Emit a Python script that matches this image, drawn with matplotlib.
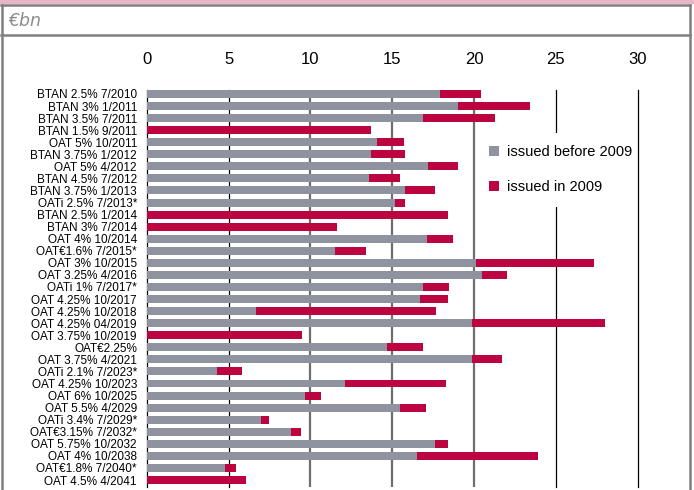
import matplotlib
matplotlib.use('Agg')
import matplotlib.pyplot as plt
from matplotlib.lines import Line2D
from matplotlib.patches import Rectangle
import numpy as np

bonds = [
    'BTAN 2.5% 7/2010', 'BTAN 3% 1/2011', 'BTAN 3.5% 7/2011', 'BTAN 1.5% 9/2011',
    'OAT 5% 10/2011', 'BTAN 3.75% 1/2012', 'OAT 5% 4/2012', 'BTAN 4.5% 7/2012',
    'BTAN 3.75% 1/2013', 'OATi 2.5% 7/2013*', 'BTAN 2.5% 1/2014', 'BTAN 3% 7/2014',
    'OAT 4% 10/2014', 'OAT€1.6% 7/2015*', 'OAT 3% 10/2015', 'OAT 3.25% 4/2016',
    'OATi 1% 7/2017*', 'OAT 4.25% 10/2017', 'OAT 4.25% 10/2018', 'OAT 4.25% 04/2019',
    'OAT 3.75% 10/2019', 'OAT€2.25%', 'OAT 3.75% 4/2021', 'OATi 2.1% 7/2023*',
    'OAT 4.25% 10/2023', 'OAT 6% 10/2025', 'OAT 5.5% 4/2029', 'OATi 3.4% 7/2029*',
    'OAT€3.15% 7/2032*', 'OAT 5.75% 10/2032', 'OAT 4% 10/2038', 'OAT€1.8% 7/2040*',
    'OAT 4.5% 4/2041',
]
issued_before = [17.9, 19.0, 16.9, 0.0, 14.1, 13.7, 17.2, 13.6, 15.8, 15.2, 0.0,
                 0.0, 17.1, 11.5, 20.1, 20.5, 16.9, 16.7, 6.7, 19.9, 0.0, 14.7,
                 19.9, 4.3, 12.1, 9.7, 15.5, 7.0, 8.8, 17.6, 16.5, 4.8, 0.0]
issued_2009 = [2.5, 4.4, 4.4, 13.7, 1.6, 2.1, 1.8, 1.9, 1.8, 0.6, 18.4,
               11.6, 1.6, 1.9, 7.2, 1.5, 1.6, 1.7, 11.0, 8.1, 9.5, 2.2,
               1.8, 1.5, 6.2, 0.95, 1.55, 0.45, 0.6, 0.8, 7.4, 0.65, 6.05]
xticks = [0, 5, 10, 15, 20, 25, 30]

GREY = '#8e939f'
RED = '#bb0440'
SANS = ['Liberation Sans', 'DejaVu Sans']

W, H = 694, 490


def fx(x):
    return x / W


def fy(y):
    return 1 - y / H


fig = plt.figure(figsize=(W / 100, H / 100), dpi=100)

# frame decorations
fig.add_artist(Rectangle((0, fy(4.5)), 1, 4.5 / H, transform=fig.transFigure,
                         facecolor='#eab6c6', edgecolor='none'))
for y in (5.5, 35):
    fig.add_artist(Line2D([fx(1), fx(690)], [fy(y), fy(y)], color='#808080', lw=1.8))
for x in (2, 690):
    fig.add_artist(Line2D([fx(x), fx(x)], [fy(5), fy(490)], color='#808080', lw=1.8))
fig.text(fx(8), fy(21), '€bn', fontsize=12.5, style='italic', color='#8c8c8c',
         va='center', ha='left', family=['DejaVu Sans'])

ax = fig.add_axes([fx(146.7), fy(487), fx(637.7) - fx(146.7), (487 - 89.5) / H])

y = np.arange(len(bonds))
b1 = ax.barh(y, issued_before, height=0.66, color=GREY, zorder=2,
             label='issued before 2009')
b2 = ax.barh(y, issued_2009, left=issued_before, height=0.66, color=RED, zorder=2,
             label='issued in 2009')

for v in xticks:
    if v in (10, 15, 20):
        ax.axvline(v, color='#6e6e6e', lw=1.6, zorder=1)
    else:
        ax.axvline(v, color='black', lw=0.9, clip_on=False,
                   zorder=6 if v == 30 else 1)

ax.set_xlim(0, 30)
ax.set_ylim(32.58, -0.37)
ax.xaxis.tick_top()
ax.set_xticks(xticks)
ax.set_xticklabels([str(v) for v in xticks], family=SANS, fontsize=12)
ax.set_yticks(y)
ax.set_yticklabels(bonds, fontsize=8.5, family=SANS)
ax.tick_params(axis='x', length=0, pad=16)
ax.tick_params(axis='y', length=0, pad=7)
for s in ax.spines.values():
    s.set_visible(False)

leg = ax.legend(handles=[b1, b2], loc='upper left',
                bbox_to_anchor=(fx(477), fy(133)), bbox_transform=fig.transFigure,
                prop={'family': SANS, 'size': 10.5}, handlelength=0.7,
                handleheight=0.7, handletextpad=0.5, labelspacing=1.45,
                borderpad=0.84, borderaxespad=0, fancybox=False, framealpha=1)
leg.get_frame().set_edgecolor('none')
leg.get_frame().set_facecolor('white')

fig.savefig('out.png', dpi=100)
